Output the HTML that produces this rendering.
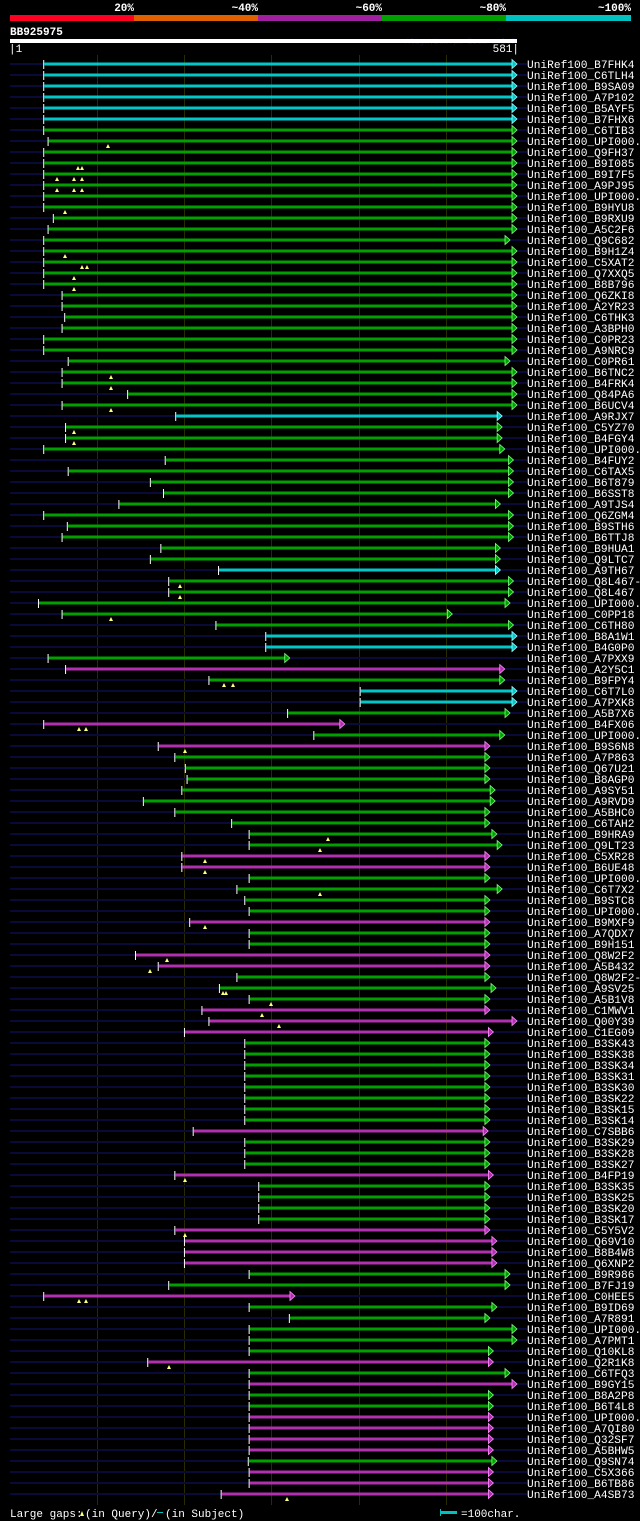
<!DOCTYPE html>
<html><head><meta charset="utf-8"><style>
html,body{margin:0;padding:0;background:#000;width:640px;height:1521px;overflow:hidden}
svg{display:block}
text{font-family:"Liberation Mono","DejaVu Sans Mono",monospace;fill:#fff}
</style></head><body>
<svg id="chart" width="640" height="1521" xmlns="http://www.w3.org/2000/svg">
<g>
<rect x="10" y="15" width="124" height="6" fill="#ff0022"/>
<rect x="134" y="15" width="124" height="6" fill="#e06000"/>
<rect x="258" y="15" width="124" height="6" fill="#a020a0"/>
<rect x="382" y="15" width="124" height="6" fill="#00a000"/>
<rect x="506" y="15" width="125" height="6" fill="#00c0c0"/>
<text x="134" y="11" font-size="11" font-weight="bold" text-anchor="end">20%</text>
<text x="258" y="11" font-size="11" font-weight="bold" text-anchor="end">~40%</text>
<text x="382" y="11" font-size="11" font-weight="bold" text-anchor="end">~60%</text>
<text x="506" y="11" font-size="11" font-weight="bold" text-anchor="end">~80%</text>
<text x="631" y="11" font-size="11" font-weight="bold" text-anchor="end">~100%</text>
</g>
<text x="10" y="35" font-size="11" font-weight="bold">BB925975</text>
<text x="405" y="44" font-size="8" style="fill:#101040">AlignView.pm Beta rel.7</text>
<rect x="10" y="39" width="507" height="4" fill="#fff"/>
<text x="9" y="52" font-size="11">|1</text>
<text x="519" y="52" font-size="11" text-anchor="end">581|</text>
<g id="grid"></g>
<g id="rows"></g>
<g>
<text x="10" y="1517" font-size="11">Large gaps:</text>
<polygon points="80,1516 82,1511 84,1516" fill="#ffff80"/>
<text x="85" y="1517" font-size="11">(in Query)/</text>
<rect x="157" y="1512" width="6" height="1" fill="#00c0c0"/>
<text x="165" y="1517" font-size="11">(in Subject)</text>
<rect x="440" y="1509" width="1" height="7" fill="#00c0c0"/>
<rect x="441" y="1511" width="16" height="3" fill="#00c0c0"/>
<text x="461" y="1517" font-size="11">=100char.</text>
</g>
</svg>
<script>
const names=["B7FHK4","C6TLH4","B9SA09","A7P102","B5AYF5","B7FHX6","C6TIB3","UPI000..","Q9FH37","B9I085","B9I7F5","A9PJ95","UPI000..","B9HYU8","B9RXU9","A5C2F6","Q9C682","B9H1Z4","C5XAT2","Q7XXQ5","B8B796","Q6ZKI8","A2YR23","C6THK3","A3BPH0","C0PR23","A9NRC9","C0PR61","B6TNC2","B4FRK4","Q84PA6","B6UCV4","A9RJX7","C5YZ70","B4FGY4","UPI000..","B4FUY2","C6TAX5","B6T879","B6SST8","A9TJS4","Q6ZGM4","B9STH6","B6TTJ8","B9HUA1","Q9LTC7","A9TH67","Q8L467-2","Q8L467","UPI000..","C0PP18","C6TH80","B8A1W1","B4G0P0","A7PXX9","A2Y5C1","B9FPY4","C6T7L0","A7PXK8","A5B7X6","B4FX06","UPI000..","B9S6N8","A7P863","Q67U21","B8AGP0","A9SY51","A9RVD9","A5BHC0","C6TAH2","B9HRA9","Q9LT23","C5XR28","B6UE48","UPI000..","C6T7X2","B9STC8","UPI000..","B9MXF9","A7QDX7","B9H151","Q8W2F2","A5B432","Q8W2F2-2","A9SV25","A5B1V8","C1MWV1","Q00Y39","C1EG09","B3SK43","B3SK38","B3SK34","B3SK31","B3SK30","B3SK22","B3SK15","B3SK14","C7SBB6","B3SK29","B3SK28","B3SK27","B4FP19","B3SK35","B3SK25","B3SK20","B3SK17","C5Y5V2","Q69V10","B8B4W8","Q6XNP2","B9R986","B7FJ19","C0HEE5","B9ID69","A7R891","UPI000..","A7PMT1","Q10KL8","Q2R1K8","C6TFQ3","B9GY15","B8A2P8","B6T4L8","UPI000..","A7QI80","Q32SF7","A5BHW5","Q9SN74","C5X366","B6TB86","A4SB73"];
const starts=[39,39,39,39,39,39,39,44,39,39,39,39,39,39,50,44,39,39,39,39,39,60,60,63,60,39,39,67,60,60,135,60,190,64,64,39,178,67,161,176,125,39,66,60,173,161,239,182,182,33,60,236,293,293,44,64,228,401,401,318,39,348,170,189,201,203,197,153,189,254,274,274,197,197,274,260,269,274,206,274,274,144,170,260,240,274,220,228,200,269,269,269,269,269,269,269,269,210,269,269,269,189,285,285,285,285,189,200,200,200,274,182,39,274,320,274,274,274,158,274,274,274,274,274,274,274,274,273,274,274,242];
const ends=[581,581,581,581,581,581,581,581,581,581,581,581,581,581,581,581,573,581,581,581,581,581,581,581,581,581,581,573,581,581,581,581,564,564,564,567,577,577,577,577,562,577,577,577,562,562,562,577,577,573,507,577,581,581,321,567,567,581,581,573,384,567,550,550,550,550,556,556,550,550,558,564,550,550,550,564,550,550,550,550,550,550,550,550,557,550,550,581,554,550,550,550,550,550,550,550,550,548,550,550,550,554,550,550,550,550,550,558,558,558,573,573,327,558,550,581,581,554,554,573,581,554,554,554,554,554,554,558,554,554,554];
const colors="cccccc"+"gggggggggggggggggggggggggg"+"c"+"ggggggggggggg"+"c"+"ggggg"+"cc"+"g"+"m"+"g"+"cc"+"g"+"m"+"g"+"m"+"ggggggggg"+"mm"+"gggg"+"m"+"gg"+"mm"+"ggg"+"mmm"+"gggggggg"+"m"+"ggg"+"m"+"gggg"+"mmmm"+"gg"+"m"+"ggggg"+"m"+"g"+"m"+"gg"+"mmmm"+"g"+"mmm";
const gapRows=[8,10,11,12,14,18,19,20,21,29,30,32,34,35,48,49,51,57,61,63,71,72,73,74,76,79,82,83,85,86,87,88,102,107,113,119,131];
const gapPos=[[108],[78,82],[57,74,82],[57,74,82],[65],[65],[82,87],[74],[74],[111],[111],[111],[74],[74],[180],[180],[111],[224,233],[79,86],[185],[328],[320],[205],[205],[320],[205],[167],[150],[223,226],[271],[262],[279],[185],[185],[79,86],[169],[287]];
const gridTicks=[100,200,300,400,500];
const X0=10,X1=517,ROW0=64,DY=11;
const xs=v=>X0+(v-1)*(X1-X0)/580;
const pal={c:["#00c8c8","#a0ffff"],g:["#00a000","#80ff80"],m:["#b030b0","#ff90ff"]};
const NS="http://www.w3.org/2000/svg";
const grid=document.getElementById('grid'),rows=document.getElementById('rows');
function mk(t,a,p){const e=document.createElementNS(NS,t);for(const k in a)e.setAttribute(k,a[k]);p.appendChild(e);return e;}
gridTicks.forEach(t=>{
 const l=mk('rect',{x:Math.round(xs(t)),y:55,width:1,height:1450,fill:'#2a2a00'},grid);
 
 
});
names.forEach((n,i)=>{
 const y=ROW0+i*DY;
 const g=mk('g',{},rows);
 
 
 mk('rect',{x:10,y:y-1,width:517,height:2,fill:'#0a0a38'},g);
 const c=pal[colors[i]]||pal.g;
 const a=xs(starts[i]),b=xs(ends[i])-5;
 mk('rect',{x:a,y:y-4,width:1,height:9,fill:'#fff'},g);
 const bar=mk('rect',{x:a+1,y:y-1.5,width:Math.max(0,b-a-1),height:3,fill:c[0]},g);
 
 
 mk('polygon',{points:`${b},${y-4.5} ${b+5},${y} ${b},${y+4.5}`,fill:c[0],stroke:c[1],'stroke-width':0.8},g);
 const t=mk('text',{x:527,y:y+4,'font-size':11.2},g);
 t.textContent='UniRef100_'+n;
 
 
});
gapRows.forEach((r,k)=>{
 const y=ROW0+(r-1)*DY;
 gapPos[k].forEach(x=>{
  const p=mk('polygon',{points:`${x-2},${y+7} ${x},${y+3} ${x+2},${y+7}`,fill:'#ffff80'},rows);
  
  
 });
});
</script>
</body></html>
